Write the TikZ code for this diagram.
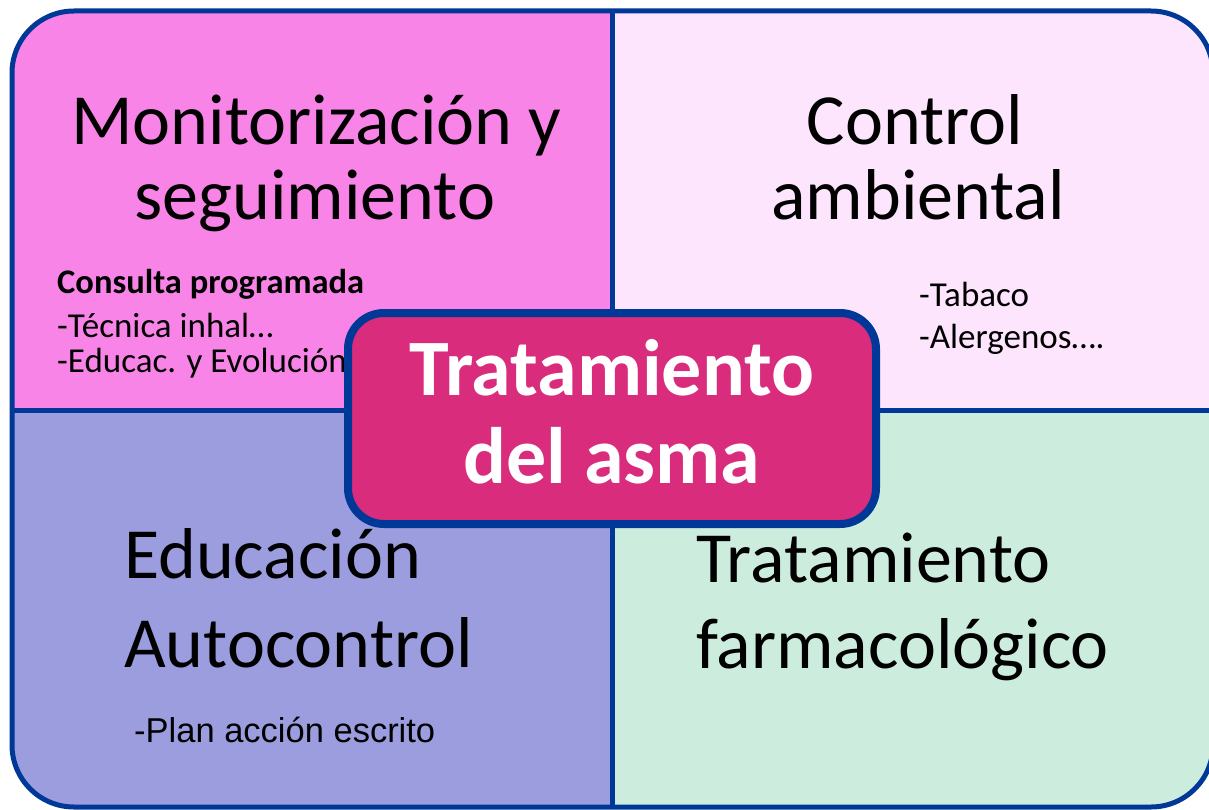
\documentclass[tikz,border=0pt]{standalone}
\usepackage{fontspec}
\setmainfont{Carlito}
\newfontfamily\arialf{Liberation Sans}
\definecolor{tlc}{RGB}{249,132,232}
\definecolor{trc}{RGB}{253,229,253}
\definecolor{blc}{RGB}{155,157,222}
\definecolor{brc}{RGB}{204,237,222}
\definecolor{midc}{RGB}{218,44,124}
\definecolor{edgec}{RGB}{0,56,152}
\tikzset{
  bigtxt/.style={inner sep=0pt, font=\fontsize{72}{78}\selectfont, text=black},
  subtxt/.style={inner sep=0pt, anchor=base west, font=\fontsize{35}{42}\selectfont, text=black},
  midtxt/.style={inner sep=0pt, anchor=base, font=\fontsize{80}{88}\selectfont\bfseries, text=white},
  divline/.style={draw=edgec, line width=5pt},
  frame/.style={draw=edgec, line width=5pt, rounded corners=62pt}
}
\begin{document}
\begin{tikzpicture}[x=1pt,y=-1pt]
\useasboundingbox (0,0) rectangle (1209,810);
\begin{scope}
  \clip[rounded corners=62pt] (12,11) rectangle (1213,807);
  \fill[tlc] (0,0) rectangle (612.5,410.5);
  \fill[trc] (612.5,0) rectangle (1220,410.5);
  \fill[blc] (0,410.5) rectangle (612.5,820);
  \fill[brc] (612.5,410.5) rectangle (1220,820);
\end{scope}
\draw[divline] (612.5,11) -- (612.5,807);
\draw[divline] (12,410.5) -- (1213,410.5);
\draw[frame] (12,11) rectangle (1213,807);

% top left
\node[bigtxt, anchor=base] (m1) at (316.5,145) {Monitorización y};
\node[bigtxt, anchor=base] (m2) at (315,220) {seguimiento};
\node[inner sep=0pt, anchor=base west, font=\fontsize{34.5}{40}\selectfont\bfseries] (cp) at (57,293) {Consulta programada};
\node[subtxt] (ti) at (57,337) {-Técnica inhal…};
\node[subtxt] (ev) at (57,372) {-Educac. y Evolución};

% top right
\node[bigtxt, anchor=base] (c1) at (915,145) {Control};
\node[bigtxt, anchor=base] (c2) at (918,220) {ambiental};
\node[inner sep=0pt, anchor=base west, font=\fontsize{35}{40}\selectfont] (tb) at (919,306) {-Tabaco};
\node[inner sep=0pt, anchor=base west, font=\fontsize{35}{40}\selectfont] (al) at (919,348) {-Alergenos….};

% bottom left
\node[bigtxt, anchor=base west] (e1) at (124,578) {Educación};
\node[bigtxt, anchor=base west] (e2) at (124,667) {Autocontrol};
\node[inner sep=0pt, anchor=base west, font=\arialf\fontsize{34.5}{40}\selectfont] (pl) at (134,742) {-Plan acción escrito};

% bottom right
\node[bigtxt, anchor=base west] (f1) at (696,582) {Tratamiento};
\node[bigtxt, anchor=base west] (f2) at (696,668) {farmacológico};

% centre
\node[draw=edgec, line width=8pt, fill=midc, rounded corners=36pt,
      minimum width=528pt, minimum height=211pt, inner sep=0pt] (mid) at (612,418.5) {};
\node[midtxt] (mt1) at (612,395) {Tratamiento};
\node[midtxt] (mt2) at (611.5,483) {del asma};
\end{tikzpicture}
\end{document}
